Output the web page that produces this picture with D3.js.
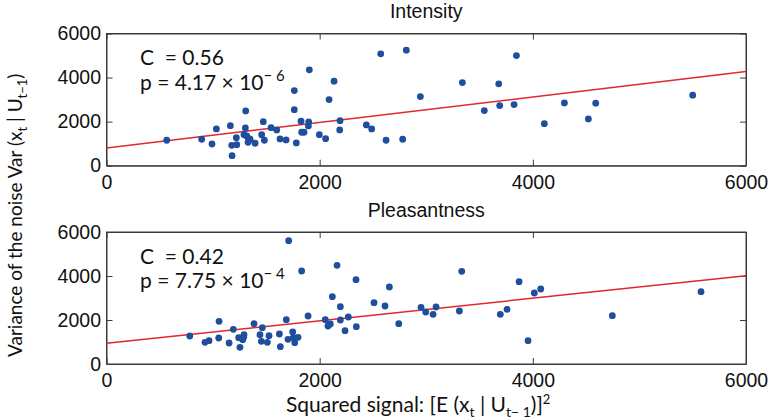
<!DOCTYPE html>
<html>
<head>
<meta charset="utf-8">
<script src="https://cdn.jsdelivr.net/npm/d3@7"></script>
<style>
  html, body { margin: 0; padding: 0; background: #fff; }
  svg { display: block; }
  text { white-space: pre; }
</style>
</head>
<body>
<svg id="chart" width="772" height="420"></svg>
<script>
// ---------------- data ----------------
const xTicks = [0, 2000, 4000, 6000];
const yTicks = [0, 2000, 4000, 6000];
const panelTitles = ["Intensity", "Pleasantness"];
const corrLabels = ["0.56", "0.42"];
const pMantissa = ["4.17", "7.75"];
const pExponent = ["6", "4"];

const intensityX = [565, 893, 990, 1031, 1162, 1175, 1178, 1218, 1222, 1306, 1303, 1290, 1315, 1334, 1328, 1347, 1394, 1456, 1471, 1481, 1544, 1597, 1628, 1685, 1762, 1762, 1781, 1825, 1831, 1853, 1897, 1894, 1903, 1997, 2056, 2088, 2135, 2191, 2188, 2438, 2488, 2573, 2623, 2779, 2813, 2945, 3339, 3545, 3680, 3689, 3824, 3846, 4108, 4296, 4521, 4590, 5500];
const intensityY = [1155, 1200, 986, 1668, 1818, 927, 455, 1273, 955, 2486, 1714, 1409, 1350, 1227, 1064, 1200, 1018, 1409, 2000, 1155, 1727, 1623, 1214, 1168, 3409, 2545, 1032, 2018, 1518, 1518, 1986, 1805, 4350, 1409, 1227, 3000, 3836, 2045, 1623, 1850, 1668, 5077, 1155, 1200, 5245, 3136, 3773, 2500, 3714, 2727, 2773, 5000, 1909, 2850, 2123, 2836, 3200];
const intensityFit = [805, 4273];   // fitted value at x = 0 and x = 6000

const pleasantX = [781, 924, 962, 1056, 1053, 1150, 1190, 1240, 1252, 1287, 1290, 1278, 1384, 1440, 1462, 1453, 1509, 1525, 1622, 1631, 1687, 1709, 1703, 1747, 1766, 1797, 1753, 1831, 1891, 2053, 2078, 2100, 2119, 2163, 2194, 2194, 2238, 2269, 2341, 2344, 2510, 2613, 2654, 2742, 2951, 2995, 3064, 3092, 3311, 3333, 3695, 3758, 3871, 3955, 4014, 4074, 4746, 5578];
const pleasantY = [1273, 986, 1059, 1939, 1182, 955, 1576, 1197, 758, 1212, 1333, 1106, 1833, 1333, 1652, 1030, 986, 1288, 1364, 788, 2015, 5606, 1121, 1455, 970, 1212, 1197, 4227, 2182, 2015, 1727, 1818, 3061, 4485, 2606, 2000, 1515, 2136, 3833, 1697, 2788, 2636, 3500, 1833, 2576, 2364, 2258, 2591, 2409, 4212, 2258, 2485, 3742, 1061, 3227, 3409, 2197, 3288];
const pleasantFit = [940, 4015];

const fitX = [0, 6000];

// ---------------- layout ----------------
const svg = d3.select("#chart");
const left = 106.5, right = 746;
const panels = [
  { top: 33.5, bottom: 165.7, xs: intensityX, ys: intensityY, fit: intensityFit, titleY: 18 },
  { top: 232, bottom: 364, xs: pleasantX, ys: pleasantY, fit: pleasantFit, titleY: 217 }
];
const tickFont = "'Liberation Sans', Arial, Helvetica, sans-serif";
const labelFont = "Lato, 'Open Sans', sans-serif";
const dotColor = "#1f4e9e";
const lineColor = "#e3262a";
const frameColor = "#3a3a3a";

const x = d3.scaleLinear().domain([0, 6000]).range([left, right]);

panels.forEach((p, i) => {
  const y = d3.scaleLinear().domain([0, 6000]).range([p.bottom, p.top]);
  const g = svg.append("g");

  g.append("rect")
    .attr("x", left).attr("y", p.top)
    .attr("width", right - left).attr("height", p.bottom - p.top)
    .attr("fill", "none").attr("stroke", frameColor).attr("stroke-width", 1);

  const axB = g.append("g").attr("transform", `translate(0,${p.bottom})`)
    .call(d3.axisBottom(x).tickValues(xTicks).tickSize(-6).tickSizeOuter(0).tickPadding(9).tickFormat(d3.format("d")));
  const axT = g.append("g").attr("transform", `translate(0,${p.top})`)
    .call(d3.axisTop(x).tickValues(xTicks).tickSize(-6).tickSizeOuter(0).tickFormat(""));
  const axL = g.append("g").attr("transform", `translate(${left},0)`)
    .call(d3.axisLeft(y).tickValues(yTicks).tickSize(-6).tickSizeOuter(0).tickPadding(5.5).tickFormat(d3.format("d")));
  const axR = g.append("g").attr("transform", `translate(${right},0)`)
    .call(d3.axisRight(y).tickValues(yTicks).tickSize(-6).tickSizeOuter(0).tickFormat(""));
  [axB, axT, axL, axR].forEach(a => {
    a.select(".domain").attr("stroke", frameColor);
    a.selectAll(".tick line").attr("stroke", frameColor);
    a.selectAll(".tick text").attr("fill", "#111").style("font-family", tickFont).style("font-size", "19.5px");
  });

  g.append("line")
    .attr("x1", x(fitX[0])).attr("y1", y(p.fit[0]))
    .attr("x2", x(fitX[1])).attr("y2", y(p.fit[1]))
    .attr("stroke", lineColor).attr("stroke-width", 1.5);

  g.selectAll("circle.pt").data(p.xs.map((v, k) => [v, p.ys[k]]))
    .enter().append("circle").attr("class", "pt")
    .attr("cx", d => x(d[0])).attr("cy", d => y(d[1]))
    .attr("r", 3.4).attr("fill", dotColor);

  g.append("text").attr("x", (left + right) / 2).attr("y", p.titleY)
    .attr("text-anchor", "middle").style("font-family", tickFont).style("font-size", "19.5px")
    .attr("fill", "#111").text(panelTitles[i]);

  g.append("text").style("font-family", labelFont).style("font-size", "21px").attr("fill", "#111")
    .attr("x", 140).attr("y", p.top + 31.5).text("C  = " + corrLabels[i]);
  const l2 = g.append("text").style("font-family", labelFont).style("font-size", "21px").attr("fill", "#111")
    .attr("x", 140).attr("y", p.top + 56);
  l2.append("tspan").text("p = " + pMantissa[i] + " \u00d7 10");
  l2.append("tspan").attr("dy", -9).style("font-size", "15px").text("\u2212 " + pExponent[i]);
});

// y axis label (reads bottom to top, starts near y = 357)
const yl = svg.append("text")
  .attr("transform", "translate(22,357) rotate(-90)")
  .attr("text-anchor", "start")
  .style("font-family", labelFont).style("font-size", "19px").attr("fill", "#111");
yl.append("tspan").text("Variance of the noise Var (x");
yl.append("tspan").attr("dy", 5).style("font-size", "13px").text("t");
yl.append("tspan").attr("dy", -5).text(" | U");
yl.append("tspan").attr("dy", 5).style("font-size", "13px").text("t\u22121");
yl.append("tspan").attr("dy", -5).text(")");

// x axis label
const xl = svg.append("text")
  .attr("x", 286).attr("y", 412)
  .attr("text-anchor", "start")
  .style("font-family", labelFont).style("font-size", "21px").attr("fill", "#111");
xl.append("tspan").text("Squared signal: [E (x");
xl.append("tspan").attr("dy", 5).style("font-size", "14px").text("t");
xl.append("tspan").attr("dy", -5).text(" | U");
xl.append("tspan").attr("dy", 5).style("font-size", "14px").text("t\u2212 1");
xl.append("tspan").attr("dy", -5).text(")]");
xl.append("tspan").attr("dy", -8).style("font-size", "13px").text("2");
</script>
</body>
</html>
